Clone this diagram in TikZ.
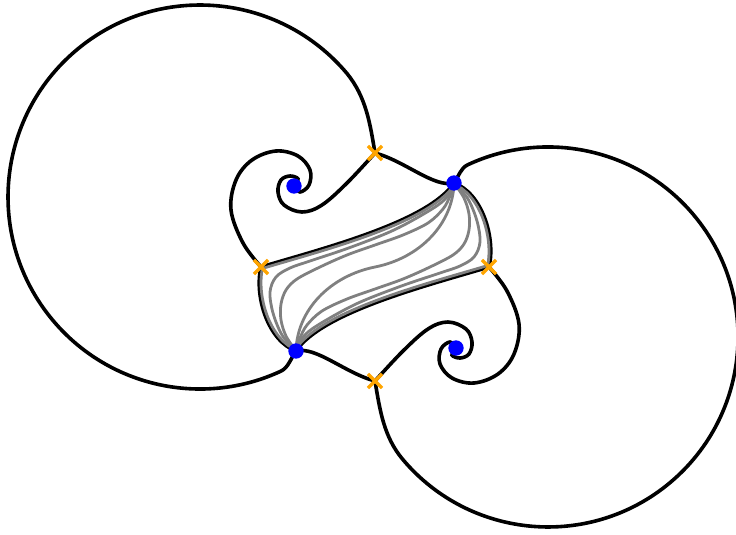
\documentclass[tikz,border=0pt]{standalone}
\usetikzlibrary{calc,shapes.misc}
\definecolor{xorange}{RGB}{255,165,0}
\definecolor{fangray}{RGB}{128,128,128}
\pgfdeclarelayer{front}
\pgfsetlayers{main,front}
\begin{document}
\begin{tikzpicture}[x=0.75pt,y=-0.75pt,
  curve/.style={line width=2.7pt, black},
  fan/.style={line width=2.1pt, fangray},
  dot/.style={circle, fill=blue, inner sep=0pt, minimum size=11.5pt},
  xmark/.style={cross out, draw=xorange, line width=2.4pt, inner sep=0pt, minimum size=8.2pt}]
\useasboundingbox (0,0) rectangle (736,535);

% nodes on the front layer
\begin{pgfonlayer}{front}
\node[dot] (A) at (294,186) {};
\node[dot] (B) at (454,183) {};
\node[dot] (C) at (296,351) {};
\node[dot] (D) at (456,348) {};
\node[xmark] (X1) at (375,153) {};
\node[xmark] (X2) at (261,267) {};
\node[xmark] (X3) at (489,267) {};
\node[xmark] (X4) at (375,381) {};
\end{pgfonlayer}

% control points of the band boundary
\coordinate (L1) at (268,341); \coordinate (L2) at (254,296);
\coordinate (U1) at (321,249); \coordinate (U2) at (428,222);
\coordinate (D1) at (322,312); \coordinate (D2) at (429,285);
\coordinate (R1) at (496,238); \coordinate (R2) at (482,193);
\coordinate (M) at (375,267);

% interior fan of grey curves from C to B
\draw[fan] plot[smooth, tension=0.55] coordinates {(C.center) (282,335) (273,313) (270,292) (276,277) (290,268) (310,261) (350,247.5) (394,230) (432,209) (447,197) (B.center)};
\draw[fan] plot[smooth, tension=0.55] coordinates {(C.center) (286,336) (281,320) (281,304) (286,290) (297,279) (320,267) (347,255) (375,245) (403,235) (428,223) (443,209) (450,196) (B.center)};
\draw[fan] (C.center) .. controls (297,310) and (330,276) .. (M) .. controls (420,258) and (453,224) .. (B.center);
\draw[fan] plot[smooth, tension=0.55] coordinates {(C.center) (300,338) (307,325) (322,311) (347,299) (375,289) (403,279) (430,267) (453,255) (464,244) (469,230) (469,214) (464,198) (B.center)};
\draw[fan] plot[smooth, tension=0.55] coordinates {(C.center) (303,337) (318,325) (356,304) (400,286.5) (440,273) (460,266) (474,257) (480,242) (477,221) (468,199) (B.center)};

% band boundary (black) with grey inside
\draw[curve] (C.center) .. controls (L1) and (L2) .. (X2.center) .. controls (U1) and (U2) .. (B.center);
\draw[curve] (C.center) .. controls (D1) and (D2) .. (X3.center) .. controls (R1) and (R2) .. (B.center);
\draw[fan, transform canvas={shift={(1.8,-0.4)}}] (C.center) .. controls (L1) and (L2) .. (X2.center);
\draw[fan, transform canvas={shift={(0.5,1.7)}}] (X2.center) .. controls (U1) and (U2) .. (B.center);
\draw[fan, transform canvas={shift={(-0.5,-1.7)}}] (C.center) .. controls (D1) and (D2) .. (X3.center);
\draw[fan, transform canvas={shift={(-1.8,0.4)}}] (X3.center) .. controls (R1) and (R2) .. (B.center);

% big loops
\draw[curve] (X1.center) .. controls (370,123) and (366,97) .. (347.1,73.6)
  arc[start angle=-40, end angle=-295, radius=192]
  .. controls (288.3,367.6) and (291,358) .. (C.center);
\draw[curve] (X4.center) .. controls (380,411) and (384,437) .. (402.5,459.1)
  arc[start angle=140, end angle=-115, radius=190]
  .. controls (460.5,168.2) and (459,176) .. (B.center);

% S-curves between crosses and dots
\draw[curve] (X1.center) .. controls (405,161) and (434,188) .. (B.center);
\draw[curve] (X4.center) .. controls (345,373) and (316,346) .. (C.center);

% spirals
\draw[curve] plot[smooth, tension=0.6] coordinates {(X1.center) (347,183) (322,205) (302,212) (284,205) (278,192) (281,180) (290,176) (298,179) (A.center)};
\draw[curve] plot[smooth, tension=0.6] coordinates {(X2.center) (243,243) (231,210) (236,180) (252,160) (276,151) (298,156) (310,170) (309,185) (300,192) (A.center)};
\draw[curve] plot[smooth, tension=0.6] coordinates {(X4.center) (403,351) (428,329) (448,322) (466,329) (472,342) (469,354) (460,358) (452,355) (D.center)};
\draw[curve] plot[smooth, tension=0.6] coordinates {(X3.center) (507,291) (519,324) (514,354) (498,374) (474,383) (452,378) (440,364) (441,349) (450,342) (D.center)};
\end{tikzpicture}
\end{document}
